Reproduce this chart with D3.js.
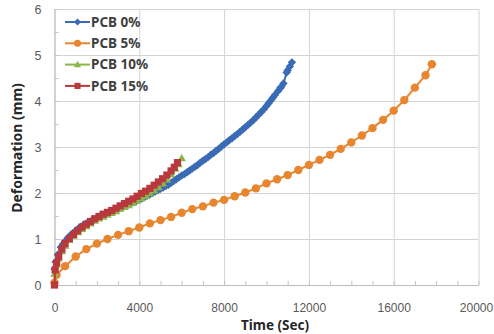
<!DOCTYPE html>
<html>
<head>
<meta charset="utf-8">
<script src="https://cdn.jsdelivr.net/npm/d3@7.9.0/dist/d3.min.js"></script>
<style>
  body { margin: 0; background: #fff; }
  svg { display: block; font-family: "Noto Sans", "DejaVu Sans", sans-serif; }
</style>
</head>
<body>
<div id="chart"></div>
<script>
// series values: [time (s), deformation (mm)]
const pcb0 = [
  [0, 0.35], [50, 0.5], [150, 0.66], [300, 0.82], [400, 0.89], [500, 0.95], [625, 1.02],
  [750, 1.08], [875, 1.13], [1000, 1.18], [1125, 1.23], [1250, 1.27], [1375, 1.31],
  [1500, 1.34], [1625, 1.37], [1750, 1.4], [1875, 1.43], [2000, 1.46], [2125, 1.49],
  [2250, 1.51], [2375, 1.54], [2500, 1.56], [2625, 1.58], [2750, 1.6], [2875, 1.63],
  [3000, 1.65], [3125, 1.68], [3250, 1.7], [3375, 1.73], [3500, 1.75], [3625, 1.78],
  [3750, 1.8], [3875, 1.83], [4000, 1.86], [4125, 1.88], [4250, 1.91], [4375, 1.94],
  [4500, 1.97], [4625, 2.0], [4750, 2.03], [4875, 2.06], [5000, 2.09], [5125, 2.12],
  [5250, 2.15], [5375, 2.18], [5500, 2.22], [5625, 2.26], [5750, 2.3], [5875, 2.34],
  [6000, 2.38], [6125, 2.41], [6250, 2.45], [6375, 2.49], [6500, 2.53], [6625, 2.57],
  [6750, 2.61], [6875, 2.66], [7000, 2.7], [7125, 2.74], [7250, 2.78], [7375, 2.83],
  [7500, 2.87], [7625, 2.92], [7750, 2.96], [7875, 3.01], [8000, 3.06], [8125, 3.1],
  [8250, 3.15], [8375, 3.19], [8500, 3.24], [8625, 3.28], [8750, 3.33], [8875, 3.38],
  [9000, 3.43], [9125, 3.48], [9250, 3.53], [9375, 3.58], [9500, 3.64], [9625, 3.7],
  [9750, 3.76], [9875, 3.82], [10000, 3.89], [10100, 3.95], [10200, 4.01], [10300, 4.07],
  [10400, 4.13], [10550, 4.22], [10650, 4.28], [10700, 4.31], [10800, 4.38], [10950, 4.62],
  [11000, 4.67], [11100, 4.75], [11200, 4.84]
];
const pcb5 = [
  [0, 0.05], [100, 0.22], [500, 0.41], [1000, 0.62], [1500, 0.78], [2000, 0.9], [2500, 1.0],
  [3000, 1.09], [3500, 1.17], [4000, 1.25], [4500, 1.34], [5000, 1.41], [5500, 1.48],
  [6000, 1.57], [6500, 1.65], [7000, 1.71], [7500, 1.79], [8000, 1.85], [8500, 1.93],
  [9000, 2.01], [9500, 2.1], [10000, 2.21], [10500, 2.3], [11000, 2.39], [11500, 2.5],
  [12000, 2.61], [12500, 2.72], [13000, 2.83], [13500, 2.96], [14000, 3.1], [14500, 3.25],
  [15000, 3.41], [15500, 3.59], [16000, 3.79], [16500, 4.02], [17000, 4.29], [17500, 4.56],
  [17800, 4.8]
];
const pcb10 = [
  [0, 0.25], [100, 0.45], [200, 0.58], [350, 0.74], [500, 0.86], [700, 0.98], [900, 1.07],
  [1100, 1.15], [1300, 1.22], [1500, 1.28], [1700, 1.34], [1900, 1.4], [2100, 1.45],
  [2300, 1.49], [2500, 1.53], [2700, 1.57], [2900, 1.61], [3100, 1.66], [3300, 1.7],
  [3500, 1.74], [3700, 1.79], [3900, 1.84], [4100, 1.89], [4300, 1.94], [4500, 2.0],
  [4700, 2.06], [4900, 2.13], [5100, 2.21], [5300, 2.3], [5500, 2.41], [5700, 2.53],
  [5850, 2.63], [6000, 2.76]
];
const pcb15 = [
  [0, 0.0], [30, 0.33], [100, 0.48], [200, 0.62], [350, 0.78], [500, 0.9], [700, 1.01],
  [900, 1.1], [1100, 1.18], [1300, 1.26], [1500, 1.32], [1700, 1.38], [1900, 1.44],
  [2100, 1.49], [2300, 1.54], [2500, 1.58], [2700, 1.62], [2900, 1.67], [3100, 1.72],
  [3300, 1.77], [3500, 1.82], [3700, 1.87], [3900, 1.93], [4100, 1.99], [4300, 2.04],
  [4500, 2.1], [4700, 2.17], [4900, 2.24], [5100, 2.31], [5300, 2.39], [5500, 2.48],
  [5650, 2.56], [5800, 2.66]
];

const seriesNames = ['PCB 0%', 'PCB 5%', 'PCB 10%', 'PCB 15%'];
const seriesData = [pcb0, pcb5, pcb10, pcb15];
const seriesColors = ['#3a6bb4', '#e8852f', '#8cb54a', '#b8393d'];
const seriesShapes = ['diamond', 'circle', 'triangle', 'square'];

const xTicks = [0, 4000, 8000, 12000, 16000, 20000];
const yTicks = [0, 1, 2, 3, 4, 5, 6];

const width = 494;
const height = 334;
const margin = { top: 9, right: 15.5, bottom: 49, left: 54.5 };

const xScale = d3.scaleLinear()
  .domain([0, 20000])
  .range([margin.left, width - margin.right]);
const yScale = d3.scaleLinear()
  .domain([0, 6])
  .range([height - margin.bottom, margin.top]);

const svg = d3.select('#chart')
  .append('svg')
  .attr('width', width)
  .attr('height', height);

const plotW = width - margin.left - margin.right;
const plotH = height - margin.top - margin.bottom;

// gridlines
svg.append('g')
  .attr('transform', `translate(0, ${yScale(0)})`)
  .call(d3.axisBottom(xScale).tickValues(xTicks).tickFormat('').tickSize(-plotH))
  .call(g => g.select('.domain').remove())
  .call(g => g.selectAll('line').attr('stroke', '#d4d4d4'));
svg.append('g')
  .attr('transform', `translate(${xScale(0)}, 0)`)
  .call(d3.axisLeft(yScale).tickValues(yTicks).tickFormat('').tickSize(-plotW))
  .call(g => g.select('.domain').remove())
  .call(g => g.selectAll('line').attr('stroke', '#d4d4d4'));

// minor ticks (inside)
svg.append('g')
  .attr('transform', `translate(0, ${yScale(0)})`)
  .call(d3.axisBottom(xScale).tickValues(d3.range(0, 20001, 1000)).tickFormat('').tickSize(-4))
  .call(g => g.select('.domain').remove())
  .call(g => g.selectAll('line').attr('stroke', '#c4c4c4'));
svg.append('g')
  .attr('transform', `translate(${xScale(0)}, 0)`)
  .call(d3.axisLeft(yScale).tickValues(d3.range(0, 6.01, 0.5)).tickFormat('').tickSize(-4))
  .call(g => g.select('.domain').remove())
  .call(g => g.selectAll('line').attr('stroke', '#c4c4c4'));

// axes with labels
const xAxis = svg.append('g')
  .attr('transform', `translate(0, ${yScale(0)})`)
  .call(d3.axisBottom(xScale).tickValues(xTicks).tickFormat(d3.format('d')).tickSize(0).tickPadding(18));
xAxis.select('.domain').attr('stroke', '#bdbdbd');
xAxis.selectAll('text').attr('fill', '#595959').style('font-size', '12px');
// last label sits at the right edge, nudge it in
xAxis.selectAll('.tick text').filter(d => d === 20000).attr('dx', -2.5);

const yAxis = svg.append('g')
  .attr('transform', `translate(${xScale(0)}, 0)`)
  .call(d3.axisLeft(yScale).tickValues(yTicks).tickFormat(d3.format('d')).tickSize(0).tickPadding(13));
yAxis.select('.domain').attr('stroke', '#bdbdbd');
yAxis.selectAll('text').attr('fill', '#595959').style('font-size', '12.5px');

// axis titles
svg.append('text')
  .attr('x', 275)
  .attr('y', 330)
  .attr('text-anchor', 'middle')
  .attr('font-weight', 'bold')
  .attr('font-size', 13.5)
  .attr('fill', '#262626')
  .text('Time (Sec)');
svg.append('text')
  .attr('transform', `translate(22, ${yScale(3) + 1}) rotate(-90)`)
  .attr('text-anchor', 'middle')
  .attr('font-weight', 'bold')
  .attr('font-size', 14)
  .attr('fill', '#262626')
  .text('Deformation (mm)');

function markerPath(shape) {
  if (shape === 'diamond') return 'M0,-4.2L4.2,0L0,4.2L-4.2,0Z';
  if (shape === 'square') return 'M-3.6,-3.6H3.6V3.6H-3.6Z';
  if (shape === 'triangle') return 'M0,-4.4L4.2,3.2H-4.2Z';
  return d3.symbol(d3.symbolCircle, 55)();
}

const line = d3.line()
  .x(d => xScale(d[0]))
  .y(d => yScale(d[1]));

seriesData.forEach((data, i) => {
  const g = svg.append('g').attr('class', 'series');
  g.append('path')
    .datum(data)
    .attr('d', line)
    .attr('fill', 'none')
    .attr('stroke', seriesColors[i])
    .attr('stroke-width', 2);
  g.selectAll('path.mark')
    .data(data)
    .join('path')
    .attr('class', 'mark')
    .attr('d', markerPath(seriesShapes[i]))
    .attr('transform', d => `translate(${xScale(d[0])}, ${yScale(d[1])})`)
    .attr('fill', seriesColors[i]);
});

// legend
const legend = svg.append('g').attr('class', 'legend');
seriesNames.forEach((name, i) => {
  const y = 22 + i * 21.3;
  const item = legend.append('g').attr('transform', `translate(65, ${y})`);
  item.append('line')
    .attr('x1', 0).attr('x2', 25)
    .attr('stroke', seriesColors[i])
    .attr('stroke-width', 2);
  item.append('path')
    .attr('d', markerPath(seriesShapes[i]))
    .attr('transform', 'translate(12.5, 0) scale(0.85)')
    .attr('fill', seriesColors[i]);
  item.append('text')
    .attr('x', 26)
    .attr('dy', '0.36em')
    .attr('font-weight', 'bold')
    .attr('font-size', 13.5)
    .attr('fill', '#404040')
    .text(name);
});
</script>
</body>
</html>
